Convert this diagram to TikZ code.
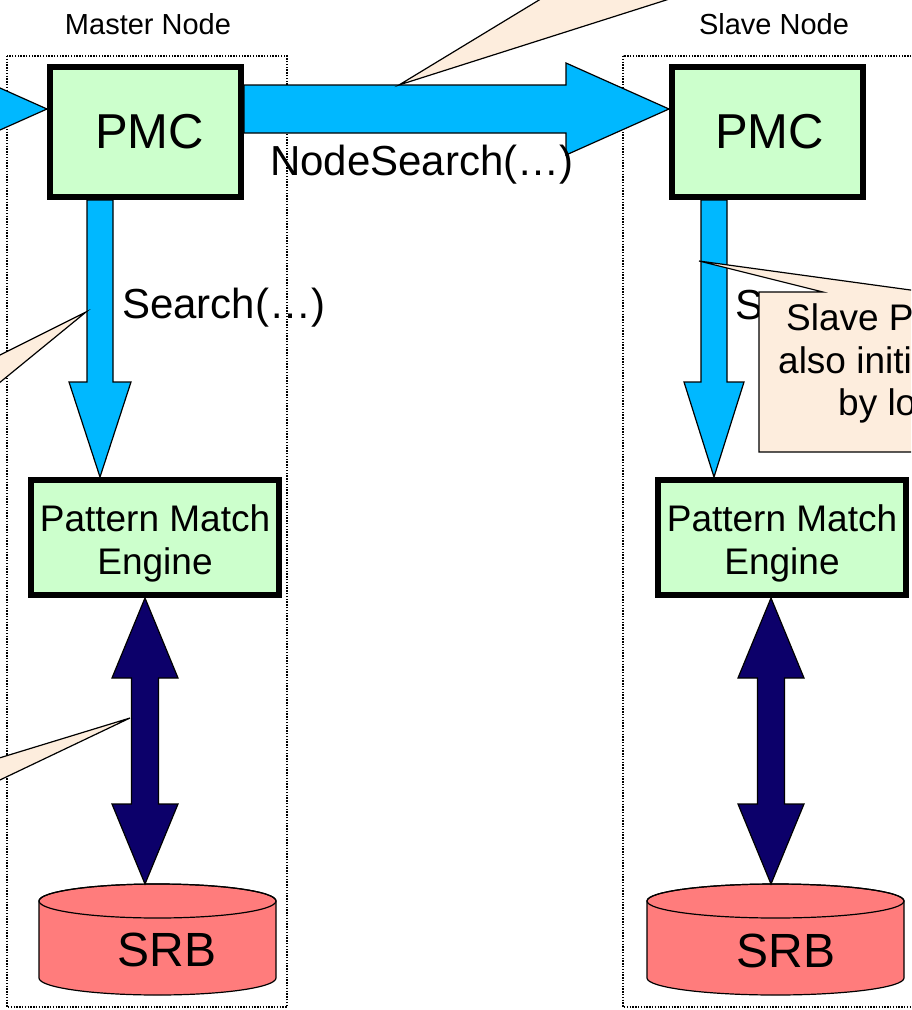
\documentclass[tikz,border=0pt]{standalone}
\usepackage{fontspec}
\setmainfont{Liberation Sans}
\usetikzlibrary{calc}
\definecolor{pmcgreen}{RGB}{204,255,204}
\definecolor{flowblue}{RGB}{0,184,255}
\definecolor{linknavy}{RGB}{12,0,106}
\definecolor{srbred}{RGB}{255,124,124}
\definecolor{notefill}{RGB}{253,237,221}
\def\masterbox{(7,56) rectangle (287,1007)}
\def\slavebox{(623,56) rectangle (960,1007)}
% fat arrow: style, from, to, half shaft, half head, head length
\newcommand{\fatarrow}[6][]{%
  \path (#3) coordinate (fa-e) ($(#3)!#6!(#2)$) coordinate (fa-h);
  \draw[#1] ($(#2)!#4!90:(fa-e)$) -- ($(fa-h)!#4!90:(fa-e)$) -- ($(fa-h)!#5!90:(fa-e)$)
    -- (fa-e) -- ($(fa-h)!#5!-90:(fa-e)$) -- ($(fa-h)!#4!-90:(fa-e)$) -- ($(#2)!#4!-90:(fa-e)$) -- cycle;
}
% same with a head on both ends
\newcommand{\dblarrow}[6][]{%
  \path (#2) coordinate (da-s) (#3) coordinate (da-e)
    ($(#2)!#6!(#3)$) coordinate (da-hs) ($(#3)!#6!(#2)$) coordinate (da-he);
  \draw[#1] (da-s) -- ($(da-hs)!#5!90:(da-e)$) -- ($(da-hs)!#4!90:(da-e)$) -- ($(da-he)!#4!90:(da-e)$)
    -- ($(da-he)!#5!90:(da-e)$) -- (da-e) -- ($(da-he)!#5!-90:(da-e)$) -- ($(da-he)!#4!-90:(da-e)$)
    -- ($(da-hs)!#4!-90:(da-e)$) -- ($(da-hs)!#5!-90:(da-e)$) -- cycle;
}

\begin{document}
\begin{tikzpicture}[x=1pt,y=-1pt,
    nodebox/.style={draw,dash pattern=on 1.4pt off 1.4pt,line width=1.3pt},
    block/.style={draw,line width=6pt,fill=pmcgreen,inner sep=0pt,align=center},
    flow/.style={draw,line width=1.2pt,fill=flowblue},
    link/.style={draw,line width=1.2pt,fill=linknavy},
    drum/.style={draw,line width=1.2pt,fill=srbred},
    note/.style={draw,line width=1.2pt,fill=notefill},
    title/.style={inner sep=0pt,font=\fontsize{29}{34}\selectfont},
    call/.style={inner sep=0pt,anchor=base west,font=\fontsize{42}{48}\selectfont},
    remark/.style={inner sep=0pt,anchor=base west,font=\fontsize{37}{43}\selectfont}]
    \useasboundingbox (0,0) rectangle (911,1010);
    \clip (0,0) rectangle (911,1010);
    \draw[nodebox] \masterbox;
    \draw[nodebox] \slavebox;
    \node[title] (mtitle) at (148,24) {Master Node};
    \node[title] (stitle) at (774,24) {Slave Node};

    \node[block,minimum width=191pt,minimum height=130pt,font=\fontsize{49}{56}\selectfont] (pmcA) at (145.5,132) {\hspace*{8pt}PMC};
    \node[block,minimum width=191pt,minimum height=130pt,font=\fontsize{49}{56}\selectfont] (pmcB) at (767.5,132) {\hspace*{4pt}PMC};
    \node[block,minimum width=248pt,minimum height=115pt] (pmeA) at (155,537.5) {};
    \node[block,minimum width=248pt,minimum height=115pt] (pmeB) at (782,537.5) {};
    \node[align=center,inner sep=0pt,font=\fontsize{37}{43}\selectfont] (pmeAtext) at ([yshift=-6pt]pmeA) {Pattern Match\\Engine};
    \node[align=center,inner sep=0pt,font=\fontsize{37}{43}\selectfont] (pmeBtext) at ([yshift=-6pt]pmeB) {Pattern Match\\Engine};

    % storage drums
    \filldraw[drum] (39,901) -- (39,978) arc[start angle=180,end angle=0,x radius=118.5,y radius=17]
        -- (276,901) arc[start angle=0,end angle=-180,x radius=118.5,y radius=17] -- cycle;
    \draw[line width=1.2pt] (157.5,901) ellipse [x radius=118.5,y radius=17];
    \filldraw[drum] (647,901) -- (647,978) arc[start angle=180,end angle=0,x radius=128.5,y radius=17]
        -- (904,901) arc[start angle=0,end angle=-180,x radius=128.5,y radius=17] -- cycle;
    \draw[line width=1.2pt] (775.5,901) ellipse [x radius=128.5,y radius=17];
    \node[inner sep=0pt,anchor=base,font=\fontsize{48}{54}\selectfont] (srbA) at (167,966) {SRB};
    \node[inner sep=0pt,anchor=base,font=\fontsize{48}{54}\selectfont] (srbB) at (786,967) {SRB};
    \coordinate (drumA) at (157.5,884);
    \coordinate (drumB) at (775.5,884);

    % arrows
    \coordinate (inA) at (-130,109);
    \coordinate (inB) at ([yshift=23pt]pmcA.west);
    \fatarrow[flow]{inA}{inB}{24pt}{46pt}{103pt}
    \coordinate (nsA) at ([yshift=23pt]pmcA.east);
    \coordinate (nsB) at ([yshift=23pt]pmcB.west);
    \fatarrow[flow]{nsA}{nsB}{24pt}{46pt}{103pt}
    \coordinate (srA1) at ([xshift=-45.5pt]pmcA.south);
    \coordinate (srA2) at ([xshift=-55pt]pmeA.north);
    \fatarrow[flow]{srA1}{srA2}{13pt}{31pt}{95pt}
    \coordinate (srB1) at ([xshift=-53.5pt]pmcB.south);
    \coordinate (srB2) at ([xshift=-68pt]pmeB.north);
    \fatarrow[flow]{srB1}{srB2}{13pt}{30pt}{95pt}
    \coordinate (lkA1) at ([xshift=-10pt]pmeA.south);
    \coordinate (lkA2) at ([xshift=-12.5pt]drumA);
    \dblarrow[link]{lkA1}{lkA2}{13.5pt}{33pt}{80pt}
    \coordinate (lkB1) at ([xshift=-11pt]pmeB.south);
    \coordinate (lkB2) at ([xshift=-4.5pt]drumB);
    \dblarrow[link]{lkB1}{lkB2}{13.5pt}{33pt}{80pt}

    \node[call] (nsText) at (270,175) {NodeSearch(…)};
    \node[call] (srTextA) at (122,318) {Search(…)};
    \node[call] (srTextB) at (735,319) {Search(…)};

    % callouts
    \filldraw[note] (399,85) -- (605,-40) -- (792,-40) -- cycle;
    \filldraw[note] (86,312) -- (-40,375) -- (-40,415) -- cycle;
    \filldraw[note] (130,718) -- (-40,770) -- (-40,799) -- cycle;
    \filldraw[note] (759,292) -- (823,292) -- (699,261) -- (925,292) -- (960,292) -- (960,452) -- (759,452) -- cycle;
    \node[remark] (noteA) at (786,330) {Slave P};
    \node[remark] (noteB) at (778,373) {also initi};
    \node[remark] (noteC) at (838,415) {by lo};
\end{tikzpicture}
\end{document}
